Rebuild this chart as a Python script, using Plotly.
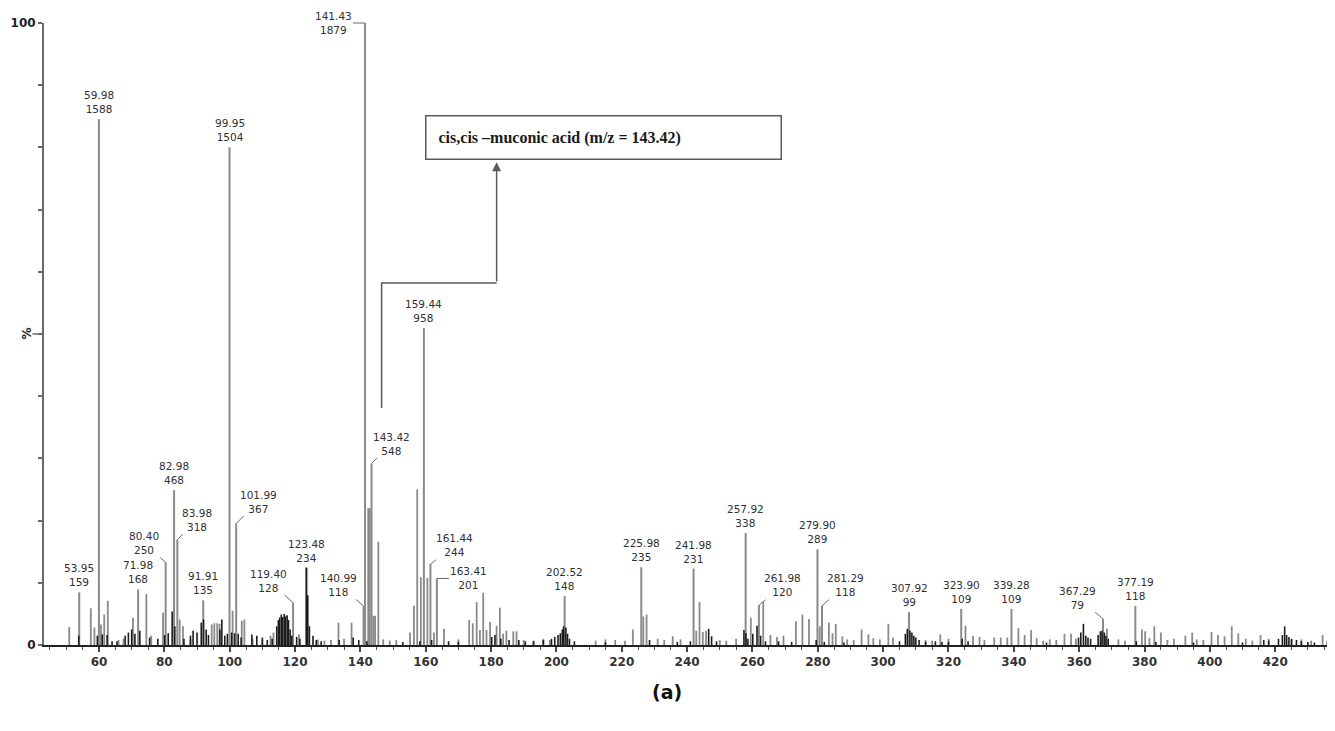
import plotly.graph_objects as go

# ---------------- data ----------------
BASE_INT = 1879  # intensity of base peak (100 %)

label_mz = [53.95, 59.98, 71.98, 80.40, 82.98, 83.98, 91.91, 99.95, 101.99, 119.40,
            123.48, 140.99, 141.43, 143.42, 159.44, 161.44, 163.41, 202.52, 225.98,
            241.98, 257.92, 261.98, 279.90, 281.29, 307.92, 323.90, 339.28, 367.29, 377.19]
label_int = [159, 1588, 168, 250, 468, 318, 135, 1504, 367, 128,
             234, 118, 1879, 548, 958, 244, 201, 148, 235,
             231, 338, 120, 289, 118, 99, 109, 109, 79, 118]
label_text_mz = ["53.95", "59.98", "71.98", "80.40", "82.98", "83.98", "91.91", "99.95", "101.99",
                 "119.40", "123.48", "140.99", "141.43", "143.42", "159.44", "161.44", "163.41",
                 "202.52", "225.98", "241.98", "257.92", "261.98", "279.90", "281.29", "307.92",
                 "323.90", "339.28", "367.29", "377.19"]
label_dark = ["123.48"]  # labelled peaks drawn in black

gray_mz = [50.9, 57.5, 58.6, 60.6, 61.6, 62.7, 70.4, 74.5, 76.0, 79.6, 84.7, 85.7, 94.5, 95.3,
           96.2, 96.9, 100.9, 103.7, 104.5, 112.5, 113.4, 121.2, 133.3, 137.3, 142.4, 142.9,
           144.0, 144.5, 145.5, 155.2, 156.4, 157.4, 158.5, 160.5, 162.5, 165.6, 173.3, 174.4,
           175.6, 176.6, 177.6, 178.6, 179.7, 181.7, 182.7, 183.7, 184.7, 186.8, 187.8, 223.4,
           226.6, 227.6, 235.6, 242.8, 243.8, 244.8, 245.8, 259.5, 263.3, 265.5, 267.5, 269.5,
           273.3, 275.3, 277.3, 280.6, 283.4, 284.5, 285.5, 287.5, 293.4, 295.5, 301.6, 303.0,
           317.5, 325.2, 327.5, 329.5, 334.0, 336.0, 338.0, 341.4, 343.3, 345.3, 347.0, 355.5,
           357.5, 368.5, 379.2, 380.2, 381.5, 383.0, 385.0, 392.5, 394.6, 400.5, 402.5, 404.5,
           406.7, 408.7, 411.0, 415.5, 434.5,
           66.0, 67.5, 88.0, 107.0, 110.0, 127.0, 129.0, 131.0, 135.0, 147.0, 149.0, 151.0,
           170.0, 190.0, 193.0, 196.0, 198.0, 212.0, 215.0, 218.0, 221.0, 231.0, 233.0, 238.0,
           250.0, 252.0, 255.0, 289.0, 291.0, 297.0, 299.0, 313.0, 315.0, 320.0, 331.0, 349.0,
           351.0, 353.0, 359.0, 372.0, 374.0, 387.0, 389.0, 396.0, 398.0, 413.0, 418.0, 425.0,
           428.0, 431.0, 436.0]
gray_pct = [2.9, 5.9, 2.8, 3.3, 4.9, 7.1, 4.4, 8.2, 1.5, 5.2, 4.1, 3.0, 3.3, 3.5,
            3.5, 3.4, 5.5, 3.9, 4.1, 1.5, 2.0, 1.7, 3.6, 3.6, 22.0, 22.0,
            4.7, 4.7, 16.6, 2.0, 6.3, 25.0, 10.9, 10.8, 2.0, 2.6, 4.0, 3.5,
            6.9, 2.4, 8.4, 2.4, 3.7, 3.1, 6.0, 1.8, 2.3, 2.2, 2.2, 2.5,
            4.6, 4.9, 1.4, 2.3, 6.9, 2.1, 2.3, 4.4, 6.9, 1.6, 1.3, 1.5,
            3.8, 4.9, 4.2, 3.0, 3.6, 1.9, 3.4, 1.4, 2.5, 1.7, 3.4, 1.2,
            1.7, 3.1, 1.5, 1.3, 1.2, 1.2, 1.2, 2.7, 1.6, 2.4, 1.1, 1.8,
            1.8, 2.6, 2.5, 2.2, 1.1, 3.0, 2.0, 1.5, 2.0, 2.1, 1.6, 1.4,
            3.0, 1.9, 1.0, 1.6, 1.6,
            0.8, 1.0, 0.9, 1.0, 0.8, 0.9, 0.7, 0.8, 1.0, 0.9, 0.7, 0.8,
            0.9, 0.8, 0.7, 1.0, 0.8, 0.7, 0.9, 0.8, 0.7, 1.0, 0.8, 0.9,
            0.8, 0.7, 1.0, 0.9, 0.8, 1.1, 0.9, 0.8, 0.7, 1.0, 0.8, 0.7,
            0.9, 0.8, 1.0, 0.9, 0.7, 0.8, 1.0, 0.9, 0.8, 0.7, 1.0, 0.8,
            0.9, 0.7, 0.8]

black_mz = [53.8, 59.5, 61.0, 62.5, 64.0, 65.5, 68.0, 69.0, 70.0, 71.0, 72.5, 75.5, 78.0, 80.1,
            81.2, 82.4, 83.2, 86.0, 88.0, 88.8, 90.0, 91.3, 92.0, 92.8, 93.5, 97.0, 97.6, 98.5,
            99.3, 100.6, 101.5, 102.6, 103.5, 106.8, 108.3, 110.0, 111.5, 113.0, 114.4, 114.9,
            115.3, 115.8, 116.2, 116.7, 117.1, 117.6, 118.0, 118.5, 119.0, 120.5, 121.5, 123.9,
            124.4, 125.5, 126.5, 128.0, 133.5, 137.8, 139.5, 142.0,
            153.0, 158.2, 161.8, 167.0, 170.0, 180.2, 181.2, 183.0, 185.5, 188.5, 190.5, 193.0,
            196.0, 198.5, 199.5, 200.5, 201.2, 201.8, 202.2, 202.9, 203.4, 204.0, 205.5,
            215.0, 228.5, 237.0, 241.0, 246.6, 247.5, 249.0, 257.4, 258.0, 258.6, 260.1, 261.4,
            262.5, 264.0, 268.0, 272.0, 279.5, 282.0, 288.0,
            305.0, 306.8, 307.4, 308.2, 308.8, 309.4, 310.0, 311.0, 313.0, 316.0, 318.0, 320.0,
            324.2, 326.0,
            350.0, 359.8, 360.5, 361.3, 362.0, 362.7, 363.5, 365.8, 366.5, 367.0, 367.7, 368.2,
            368.9, 377.5, 383.5, 395.0, 410.0, 416.5, 418.0, 421.0, 422.2, 422.9, 423.5, 424.2,
            425.0, 426.5, 428.0, 430.0, 432.0, 436.0]
black_pct = [1.5, 1.5, 1.7, 1.6, 0.6, 0.6, 1.5, 2.0, 2.5, 1.8, 2.3, 1.2, 1.0, 1.6,
             1.9, 5.4, 3.0, 1.0, 1.5, 2.3, 2.0, 3.6, 4.1, 2.5, 1.6, 2.5, 4.1, 1.5,
             1.8, 2.0, 1.9, 1.8, 1.2, 1.7, 1.5, 1.2, 0.8, 1.0, 3.0, 4.0,
             4.4, 4.9, 4.5, 5.0, 4.6, 4.8, 4.0, 2.5, 1.5, 1.3, 1.0, 8.0,
             3.0, 1.5, 0.8, 0.6, 0.8, 1.2, 0.8, 0.6,
             0.5, 0.6, 0.8, 0.6, 0.5, 1.3, 1.6, 1.0, 0.8, 0.8, 0.6, 0.6,
             0.8, 1.0, 1.3, 1.6, 1.9, 2.5, 3.0, 2.8, 1.8, 1.0, 0.6,
             0.4, 0.8, 0.5, 0.6, 2.6, 1.4, 0.6, 2.4, 1.9, 1.0, 1.8, 3.1,
             1.5, 0.6, 0.6, 0.5, 0.8, 0.5, 0.4,
             0.6, 1.8, 2.6, 2.3, 2.0, 1.5, 1.2, 0.8, 0.5, 0.6, 0.5, 0.5,
             1.0, 0.6,
             0.4, 1.2, 2.0, 3.4, 1.5, 1.2, 1.0, 1.6, 2.2, 2.3, 2.0, 1.5,
             1.0, 0.6, 0.5, 0.4, 0.4, 0.8, 0.7, 1.0, 1.6, 3.0, 1.6, 1.3,
             1.0, 0.8, 0.6, 0.5, 0.4, 0.5]

x_ticks = [60, 80, 100, 120, 140, 160, 180, 200, 220, 240, 260, 280, 300, 320, 340,
           360, 380, 400, 420, 440]
y_ticks = [0, 10, 20, 30, 40, 50, 60, 70, 80, 90, 100]
y_ticktext = ["0", "", "", "", "", "", "", "", "", "", "100"]

annotation_text = "cis,cis \u2013muconic acid (m/z = 143.42)"
panel_text = "(a)"

# ---------------- helpers ----------------
def stems(xs, ys):
    sx, sy = [], []
    for a, b in zip(xs, ys):
        sx += [a, a, None]
        sy += [0, b, None]
    return sx, sy

label_pct = [v / BASE_INT * 100 for v in label_int]

GRAY = "#8a8a8a"
DARK = "#1c1c1c"

fig = go.Figure()

gx, gy = stems(gray_mz, gray_pct)
fig.add_trace(go.Scatter(x=gx, y=gy, mode="lines", line=dict(color=GRAY, width=1.8),
                         hoverinfo="skip", showlegend=False))

lg = [(m, p) for m, p, t in zip(label_mz, label_pct, label_text_mz) if t not in label_dark]
lx, ly = stems([a for a, _ in lg], [b for _, b in lg])
fig.add_trace(go.Scatter(x=lx, y=ly, mode="lines", line=dict(color=GRAY, width=2),
                         hoverinfo="skip", showlegend=False))

bx, by = stems(black_mz, black_pct)
fig.add_trace(go.Scatter(x=bx, y=by, mode="lines", line=dict(color=DARK, width=1.6),
                         hoverinfo="skip", showlegend=False))

ld = [(m, p) for m, p, t in zip(label_mz, label_pct, label_text_mz) if t in label_dark]
dx, dy = stems([a for a, _ in ld], [b for _, b in ld])
fig.add_trace(go.Scatter(x=dx, y=dy, mode="lines", line=dict(color=DARK, width=2),
                         hoverinfo="skip", showlegend=False))

# label offsets (pixels) for peaks whose labels sit beside the stem with a leader
leader_offsets = {
    "80.40": (-22, -19), "83.98": (20, -20), "101.99": (22, -22), "119.40": (-25, -22),
    "140.99": (-25, -21), "141.43": (-32, 0), "143.42": (20, -20), "161.44": (24, -19),
    "163.41": (32, 0), "261.98": (24, -20), "281.29": (23, -21), "367.29": (-25, -21),
}

LBL_FONT = dict(family="DejaVu Sans", size=10.5, color="#303030")
annotations = []
for m, p, t, iv in zip(label_mz, label_pct, label_text_mz, label_int):
    txt = f"{t}<br>{iv}"
    if t in leader_offsets:
        ax, ay = leader_offsets[t]
        annotations.append(dict(x=m, y=p, xref="x", yref="y", text=txt, showarrow=True,
                                arrowhead=0, arrowwidth=1, arrowcolor="#6a6a6a",
                                ax=ax, ay=ay, standoff=0, font=LBL_FONT))
    else:
        annotations.append(dict(x=m, y=p, xref="x", yref="y", text=txt, showarrow=False,
                                yanchor="bottom", yshift=2, font=LBL_FONT))

# boxed compound annotation
annotations.append(dict(x=0.433, y=0.8167, xref="paper", yref="paper", text=annotation_text,
                        showarrow=False, xanchor="center", yanchor="middle", align="left",
                        width=330, borderpad=12, bordercolor="#5a5a5a", borderwidth=1.5,
                        bgcolor="white",
                        font=dict(family="Liberation Serif", size=16, color="#1a1a1a",
                                  weight="bold")))
# arrow into the box
annotations.append(dict(x=181.7, y=77.6, xref="x", yref="y", ax=181.7, ay=58.2,
                        axref="x", ayref="y", text="", showarrow=True, arrowhead=2,
                        arrowsize=1.2, arrowwidth=1.5, arrowcolor="#5a5a5a"))
# y-axis "%" label
annotations.append(dict(x=-0.0065, y=0.5, xref="paper", yref="paper", text="%",
                        showarrow=False, textangle=-90, xanchor="right", yanchor="middle",
                        font=dict(family="DejaVu Sans", size=12, color="#222", weight="bold")))
# panel label
annotations.append(dict(x=0.4826, y=-0.0756, xref="paper", yref="paper", text=panel_text,
                        showarrow=False, xanchor="center", yanchor="middle",
                        font=dict(family="DejaVu Sans", size=19, color="#111", weight="bold")))

shapes = [
    dict(type="path", xref="x", yref="y",
         path="M 146.5,38.1 L 146.5,58.2 L 181.7,58.2",
         line=dict(color="#5a5a5a", width=1.5)),
    dict(type="line", xref="paper", yref="y", x0=-0.009, x1=0, y0=50, y1=50,
         line=dict(color="#6a6a6a", width=1.5)),
]

# page body has an 8px default margin, so the figure is sized/offset to compensate
fig.update_layout(
    width=1327, height=723,
    margin=dict(l=36, r=0, t=15, b=86, autoexpand=False),
    paper_bgcolor="white", plot_bgcolor="white",
    showlegend=False,
    annotations=annotations,
    shapes=shapes,
    xaxis=dict(range=[43.17, 438.3], showgrid=False, zeroline=False, showline=True,
               automargin=False,
               linecolor="#222", linewidth=2, ticks="outside", ticklen=5, tickwidth=1.5,
               tickcolor="#444", tickvals=x_ticks,
               tickfont=dict(family="DejaVu Sans", size=12, color="#333", weight="bold"),
               minor=dict(dtick=5, tick0=0, ticks="outside", ticklen=3, tickcolor="#555",
                          tickwidth=1, showgrid=False)),
    yaxis=dict(range=[0, 100], showgrid=False, zeroline=False, showline=True,
               automargin=False,
               linecolor="#6a6a6a", linewidth=2, ticks="outside", ticklen=4, tickwidth=1.5,
               tickcolor="#6a6a6a", tickvals=y_ticks, ticktext=y_ticktext,
               tickfont=dict(family="DejaVu Sans", size=12, color="#222", weight="bold")),
)

fig.write_html("out.html")
